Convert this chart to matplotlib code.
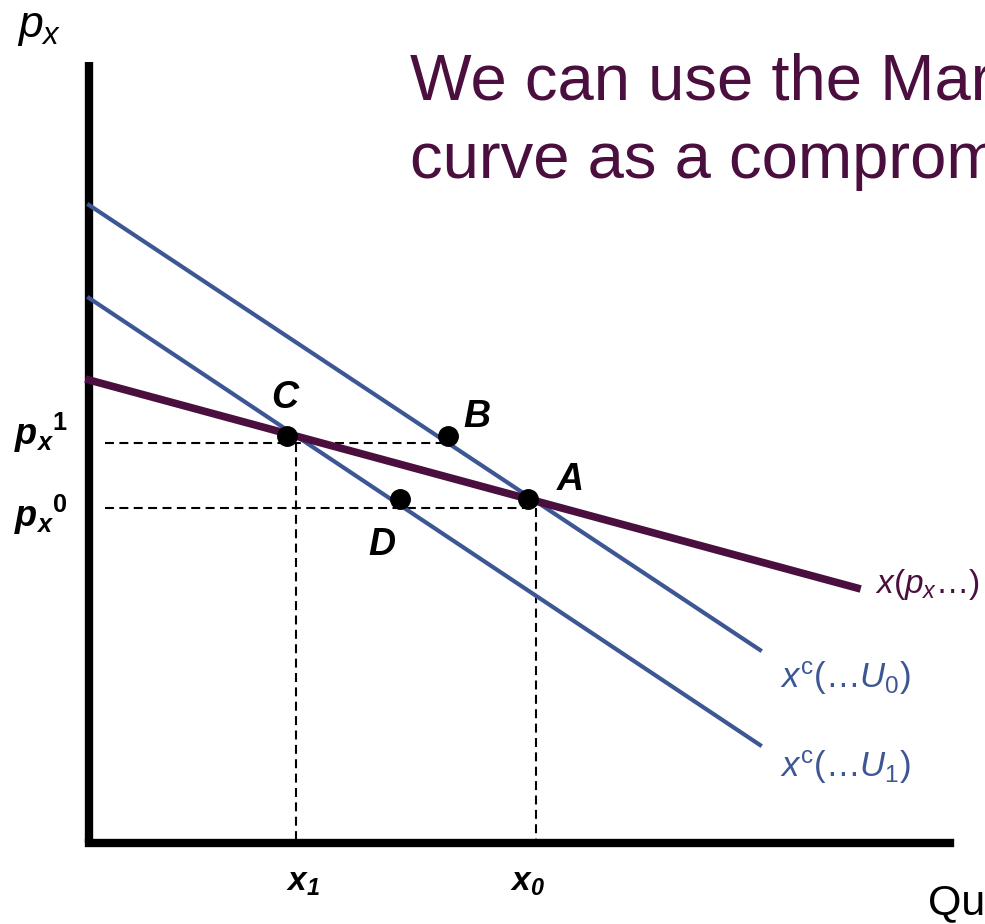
import matplotlib.pyplot as plt

plt.rcParams['font.family'] = 'Liberation Sans'
plt.rcParams['mathtext.fontset'] = 'custom'
plt.rcParams['mathtext.rm'] = 'Liberation Sans'
plt.rcParams['mathtext.it'] = 'Liberation Sans:italic'
plt.rcParams['mathtext.bf'] = 'Liberation Sans:bold'
plt.rcParams['mathtext.bfit'] = 'Liberation Sans:italic:bold'

purple = '#4a0f3e'
blue = '#3d5694'

# schematic curves (quantity, price)
marsh_x = [0, 7.68]
marsh_p = [4.63, 2.55]
hicks0_x = [0, 6.71]
hicks0_p = [6.38, 1.93]
hicks1_x = [0, 6.71]
hicks1_p = [5.45, 0.98]

point_names = ['C', 'B', 'A', 'D']
point_x = [1.98, 3.59, 4.39, 3.11]
point_p = [4.07, 4.07, 3.44, 3.44]

p1, p0 = 4.00, 3.35
x1, x0 = 2.07, 4.47

fig = plt.figure(figsize=(9.85, 9.24), dpi=100)
ax = fig.add_axes([0, 0, 1, 1])
ax.set_xlim(-0.89, 8.96)
ax.set_ylim(-0.81, 8.43)
ax.axis('off')

# axes
ax.plot([0, 0], [7.81, 0], color='black', lw=6, solid_capstyle='butt')
ax.plot([0, 8.61], [0, 0], color='black', lw=6, solid_capstyle='projecting')

# dashed guides
dash = dict(color='black', lw=1.5, dashes=(4.3, 2.6))
ax.plot([0.16, point_x[1]], [p1, p1], **dash)
ax.plot([0.16, x0], [p0, p0], **dash)
ax.plot([x1, x1], [p1, 0], **dash)
ax.plot([x0, x0], [p0, 0], **dash)

# curves
ax.plot(hicks0_x, hicks0_p, color=blue, lw=3)
ax.plot(hicks1_x, hicks1_p, color=blue, lw=3)
ax.plot(marsh_x, marsh_p, color=purple, lw=5.5)

ax.plot(point_x, point_p, 'o', color='black', ms=14, zorder=5)

lab_pos = {'C': (1.96, 4.45), 'B': (3.88, 4.26), 'A': (4.81, 3.63), 'D': (2.93, 2.98)}
for n in point_names:
    ax.text(*lab_pos[n], n, fontsize=27, fontweight='bold', style='italic',
            ha='center', va='center')

# curve labels
ax.text(7.86, 2.58, r'$x(p_x\ldots)$', fontsize=24, color=purple, va='center')
ax.text(6.91, 1.65, r'$x^{\mathrm{c}}(\ldots U_0)$', fontsize=25, color=blue, va='center')
ax.text(6.91, 0.76, r'$x^{\mathrm{c}}(\ldots U_1)$', fontsize=25, color=blue, va='center')

# axis labels
ax.text(-0.72, 8.15, r'$p_x$', fontsize=32, va='center', ha='left')
ax.text(8.39, -0.72, 'Quantity', fontsize=31, va='baseline', ha='left')
ax.text(-0.75, 4.10, r'$\mathbfit{p_x}^{\mathbf{1}}$', fontsize=26, va='center')
ax.text(-0.75, 3.28, r'$\mathbfit{p_x}^{\mathbf{0}}$', fontsize=26, va='center')
ax.text(2.14, -0.39, r'$\mathbfit{x_1}$', fontsize=24, ha='center', va='center')
ax.text(4.39, -0.39, r'$\mathbfit{x_0}$', fontsize=24, ha='center', va='center')

# headline
ax.text(3.21, 7.43, 'We can use the Marshallian demand', fontsize=47, color=purple, va='baseline')
ax.text(3.21, 6.65, 'curve as a compromise', fontsize=47, color=purple, va='baseline')

fig.savefig('out.png', dpi=100)
